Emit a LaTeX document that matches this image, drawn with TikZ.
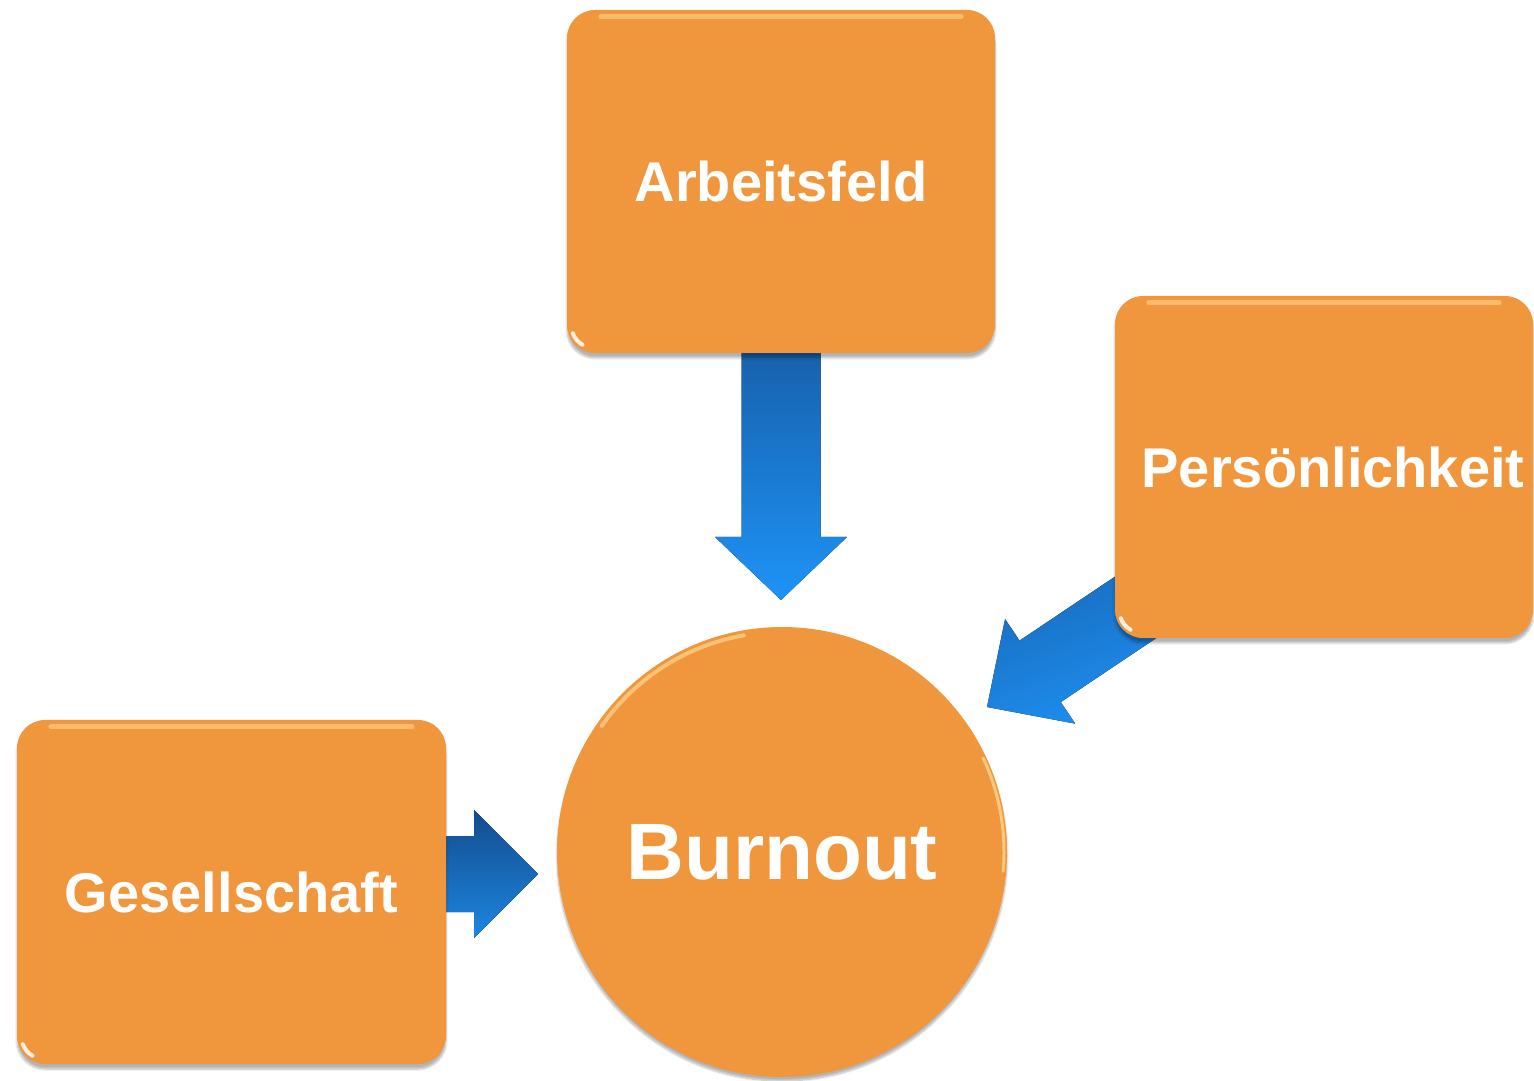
\documentclass[tikz,border=0pt]{standalone}
\usepackage{fontspec}
\setmainfont{Liberation Sans}
\usetikzlibrary{calc,backgrounds,shadows.blur}

\definecolor{boxorange}{HTML}{F0963C}
\definecolor{glint}{HTML}{FFE09A}
\definecolor{bluedark}{HTML}{1762AE}
\definecolor{bluelight}{HTML}{1E93F7}
\definecolor{bluedeep}{HTML}{134C8E}
\definecolor{bluemid}{HTML}{1D86E0}

\tikzset{
  x=1pt, y=1pt,
  factor/.style={rectangle, rounded corners=28pt, fill=boxorange,
    minimum width=428pt, minimum height=343pt, inner sep=0pt,
    text=white, font=\bfseries\fontsize{56}{66}\selectfont,
    blur shadow={shadow xshift=0pt, shadow yshift=-5pt,
      shadow opacity=30, shadow blur steps=8}},
  core/.style={circle, fill=boxorange, minimum size=450pt, inner sep=0pt,
    text=white, font=\bfseries\fontsize{80}{94}\selectfont,
    blur shadow={shadow xshift=0pt, shadow yshift=-4pt,
      shadow opacity=30, shadow blur steps=8}},
  topglint/.style={glint, line width=5pt, opacity=0.5, line cap=round},
  cornerglint/.style={white, line width=4pt, opacity=0.85, line cap=round},
}

% Block arrow: #1 fill options, #2 tail, #3 tip,
% #4 half shaft width, #5 half head width, #6 head length
\newcommand{\blockarrow}[6]{%
  \coordinate (ba-base) at ($(#3)!#6!(#2)$);
  \fill[#1] ($(#2)!#4!90:(#3)$) -- ($(ba-base)!#4!90:(#3)$)
    -- ($(ba-base)!#5!90:(#3)$) -- (#3)
    -- ($(ba-base)!#5!-90:(#3)$) -- ($(ba-base)!#4!-90:(#3)$)
    -- ($(#2)!#4!-90:(#3)$) -- cycle;
}

% Glossy edge highlights of a rounded box
\newcommand{\boxgloss}[1]{%
  \draw[topglint] ($(#1.north west)+(34,-7)$) -- ($(#1.north east)+(-34,-7)$);
  \draw[cornerglint] ($(#1.south west)+(6,20)$)
    arc[start angle=200, end angle=240, radius=22pt];
}

\begin{document}
\begin{tikzpicture}
  \useasboundingbox (0,0) rectangle (1534,1080);

  % factors and the central state
  \node[factor] (arb)  at (781,898.5) {Arbeitsfeld};
  \node[factor, minimum width=418pt, minimum height=342pt] (pers) at (1324,613) {\hspace*{18pt}Persönlichkeit};
  \node[factor, minimum width=429pt, minimum height=344pt] (ges)  at (231.5,188) {Gesellschaft};
  \node[core] (burn) at (782,228) {Burnout};

  \boxgloss{arb}
  \boxgloss{pers}
  \boxgloss{ges}

  % rim highlights on the circle
  \draw[glint, line width=4pt, opacity=0.6, line cap=round]
    ($(burn.center)+(100:220)$) arc[start angle=100, end angle=145, radius=220pt];
  \draw[glint, line width=3pt, opacity=0.7, line cap=round]
    ($(burn.center)+(-5:222)$) arc[start angle=-5, end angle=25, radius=222pt];

  % connectors: tails and tips
  \coordinate (arbtip) at (781,480);
  \coordinate (gestail) at ($(ges.east)+(0,18)$);
  \coordinate (gestip) at (538,206);
  \coordinate (perstail) at (1236,540);
  \coordinate (perstip) at (987,373);

  \begin{scope}[on background layer]
    \blockarrow{top color=bluedark, bottom color=bluelight}{arb.south}{arbtip}{39.5pt}{66pt}{63pt}
    \blockarrow{top color=bluedeep, bottom color=bluemid}{gestail}{gestip}{38pt}{64pt}{64pt}
    \blockarrow{top color=bluedark, bottom color=bluelight, shading angle=20}{perstail}{perstip}{37pt}{63pt}{64pt}
  \end{scope}
\end{tikzpicture}
\end{document}
